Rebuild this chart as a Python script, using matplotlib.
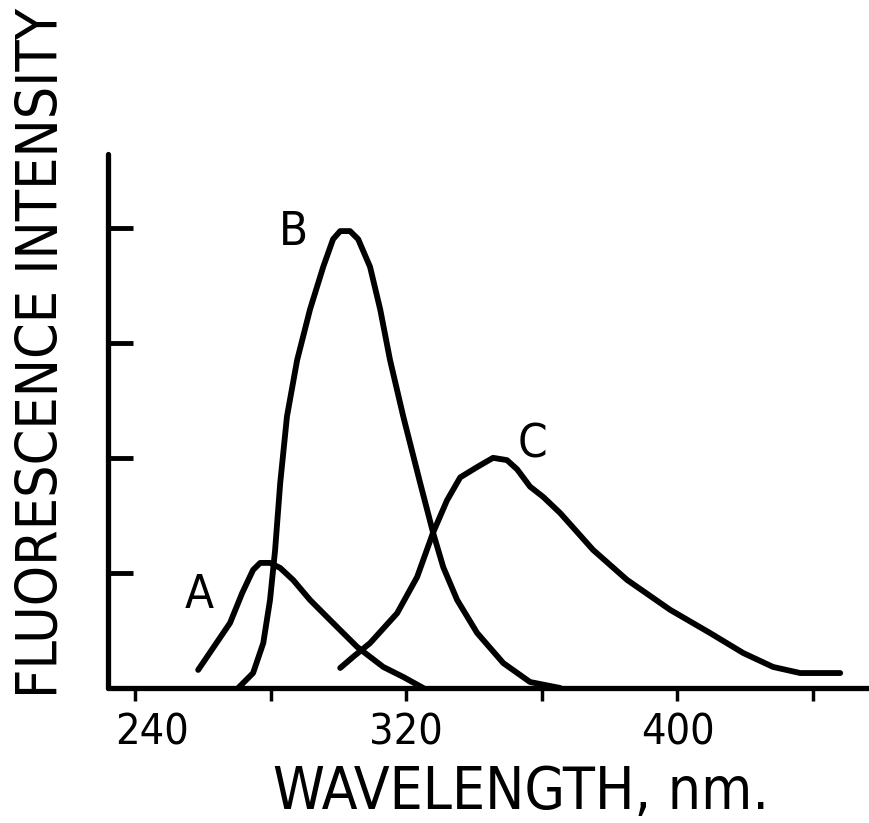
import numpy as np
import matplotlib
matplotlib.use('Agg')
import matplotlib.pyplot as plt
from matplotlib.transforms import ScaledTranslation

plt.rcParams['font.family'] = ['DejaVu Sans']
plt.rcParams['font.stretch'] = 'condensed'

# 曲线数据 (波长 nm, 相对强度)
wl_a = [258.6, 268.0, 271.6, 274.8, 276.9, 279.8, 282.8, 286.6, 291.6, 297.5, 305.5, 313.2, 319.1, 325.0]
int_a = [0.157, 0.565, 0.826, 1.026, 1.087, 1.087, 1.043, 0.939, 0.765, 0.591, 0.357, 0.183, 0.096, 0.0]

wl_b = [270.4, 274.8, 277.8, 279.8, 281.3, 282.8, 284.8, 287.8, 291.6, 295.5, 298.4, 300.5, 303.4,
        305.8, 309.3, 312.3, 315.2, 319.1, 324.1, 327.9, 330.9, 335.0, 340.9, 348.6, 356.5, 365.4]
int_b = [0.0, 0.13, 0.39, 0.765, 1.2, 1.78, 2.36, 2.85, 3.29, 3.66, 3.90, 3.97, 3.97,
         3.90, 3.66, 3.29, 2.85, 2.36, 1.78, 1.35, 1.05, 0.765, 0.478, 0.217, 0.052, 0.0]

wl_c = [300.5, 304.3, 309.3, 317.3, 323.2, 327.9, 332.0, 335.9, 340.9, 345.6, 349.7, 352.7, 356.5,
        360.4, 365.4, 375.1, 385.1, 397.8, 409.6, 419.4, 428.2, 436.2, 448.0]
int_c = [0.174, 0.27, 0.39, 0.65, 0.965, 1.35, 1.63, 1.83, 1.92, 2.0, 1.98, 1.90, 1.75,
         1.66, 1.52, 1.20, 0.94, 0.68, 0.478, 0.304, 0.183, 0.13, 0.13]

curve_labels = ['A', 'B', 'C']
label_pos = [(259.0, 0.696), (286.6, 3.85), (357.1, 2.0)]

x_ticks = [240, 280, 320, 360, 400, 440]
x_ticklabels = ['240', '', '320', '', '400', '']
y_ticks = [1, 2, 3, 4]

fig = plt.figure(figsize=(8.69, 8.23), dpi=100)
ax = fig.add_axes([108 / 869, 135 / 823, 761 / 869, 534 / 823])

for wl, inten in [(wl_a, int_a), (wl_b, int_b), (wl_c, int_c)]:
    ax.plot(wl, inten, color='black', lw=4.2, solid_capstyle='round', solid_joinstyle='round')

for lab, (x, y) in zip(curve_labels, label_pos):
    ax.text(x, y, lab, fontsize=34, ha='center', va='baseline')

ax.set_xlim(232.0, 456.5)
ax.set_ylim(0, 4.64)

for s in ['top', 'right']:
    ax.spines[s].set_visible(False)
for s in ['left', 'bottom']:
    ax.spines[s].set_linewidth(3.8)
    ax.spines[s].set_capstyle('round')

ax.set_xticks(x_ticks)
ax.set_xticklabels(x_ticklabels, fontsize=31)
ax.set_yticks(y_ticks)
ax.set_yticklabels([])
ax.tick_params(axis='x', direction='out', length=9, width=2.5, pad=8)
ax.tick_params(axis='y', direction='in', length=18, width=3.5)

# 240 的标签在原图中略偏右
lbl = ax.get_xticklabels()[0]
lbl.set_transform(lbl.get_transform() + ScaledTranslation(0.17, 0, fig.dpi_scale_trans))

ax.set_xlabel('WAVELENGTH, nm.', fontsize=42)
ax.xaxis.set_label_coords((521 - 108) / 761, (688 - 793) / 534)
ax.xaxis.label.set_va('center')
ax.set_ylabel('FLUORESCENCE INTENSITY', fontsize=41)
ax.yaxis.set_label_coords((42 - 108) / 761, (688 - 353) / 534)
ax.yaxis.label.set_va('center')

fig.savefig('out.png', dpi=100)
